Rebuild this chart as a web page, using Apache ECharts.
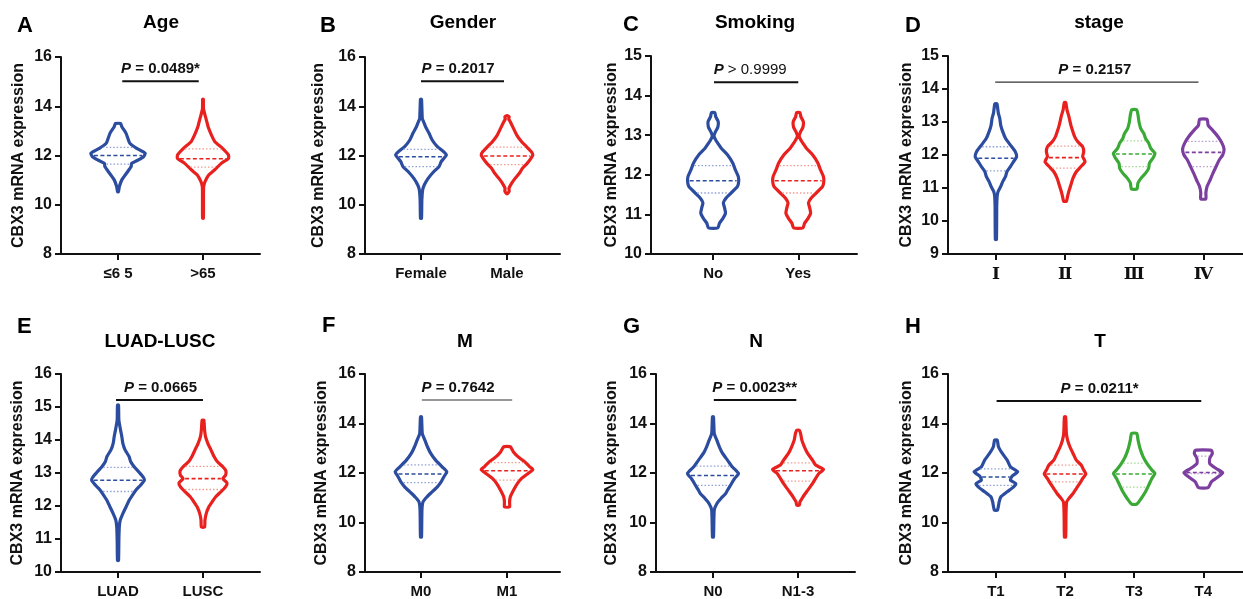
<!DOCTYPE html>
<html><head><meta charset="utf-8">
<script src="https://cdn.jsdelivr.net/npm/echarts@6/dist/echarts.min.js"></script>
<style>html,body{margin:0;padding:0;background:#fff}#c{width:1243px;height:599px}</style>
</head><body><div id="c"></div>
<script>
// ---------- DATA (value, half-width in category units) ----------
const catsAge = ['≤6 5', '>65'];
const catsGender = ['Female', 'Male'];
const catsSmoking = ['No', 'Yes'];
const catsStage = ['Ⅰ', 'Ⅱ', 'Ⅲ', 'Ⅳ'];
const catsType = ['LUAD', 'LUSC'];
const catsM = ['M0', 'M1'];
const catsN = ['N0', 'N1-3'];
const catsT = ['T1', 'T2', 'T3', 'T4'];

const ageLe65 = [[13.30,.03],[13.17,.045],[12.90,.095],[12.49,.14],[12.29,.22],[12.09,.32],[11.95,.30],[11.82,.24],[11.68,.16],[11.55,.155],[11.28,.10],[11.01,.045],[10.74,.016],[10.53,.005]];
const ageGt65 = [[14.29,.004],[13.9,.006],[13.64,.024],[13.44,.04],[13.17,.06],[12.83,.10],[12.56,.14],[12.29,.23],[12.02,.30],[11.88,.30],[11.68,.215],[11.41,.135],[11.21,.067],[10.94,.024],[10.74,.008],[10.47,.006],[9.45,.005]];
const genderF = [[14.28,.006],[13.5,.015],[13.37,.03],[13.17,.053],[12.9,.094],[12.63,.13],[12.36,.19],[12.15,.265],[12.02,.295],[11.88,.265],[11.75,.235],[11.55,.21],[11.35,.15],[11.07,.083],[10.8,.038],[10.6,.019],[10.2,.01],[9.45,.006]];
const genderM = [[13.62,.005],[13.57,.025],[13.48,.02],[13.37,.038],[13.1,.075],[12.83,.113],[12.56,.17],[12.36,.226],[12.15,.283],[12.02,.30],[11.84,.27],[11.68,.234],[11.48,.18],[11.28,.143],[11.07,.094],[10.87,.053],[10.67,.023],[10.55,.025],[10.45,.005]];
const smokeNo = [[13.57,.02],[13.47,.03],[13.34,.06],[13.2,.055],[13.08,.025],[12.98,.01],[12.88,.03],[12.78,.06],[12.67,.095],[12.5,.17],[12.3,.23],[12.13,.26],[11.96,.295],[11.83,.30],[11.7,.285],[11.54,.21],[11.41,.15],[11.29,.12],[11.16,.135],[11.03,.145],[10.9,.115],[10.78,.075],[10.66,.055]];
const smokeYes = [[13.57,.02],[13.47,.03],[13.34,.06],[13.2,.055],[13.08,.025],[12.98,.01],[12.88,.03],[12.78,.06],[12.67,.095],[12.5,.17],[12.3,.23],[12.13,.26],[11.96,.295],[11.83,.30],[11.7,.285],[11.54,.21],[11.41,.15],[11.29,.12],[11.16,.135],[11.03,.145],[10.9,.115],[10.78,.075],[10.66,.055]];
const stage1 = [[13.55,.015],[13.27,.035],[13.12,.055],[12.9,.07],[12.7,.10],[12.5,.14],[12.3,.21],[12.1,.28],[11.95,.30],[11.8,.255],[11.65,.21],[11.5,.16],[11.35,.14],[11.2,.10],[11.05,.07],[10.9,.033],[10.75,.018],[10.45,.012],[9.44,.008]];
const stage2 = [[13.59,.01],[13.37,.028],[13.17,.055],[12.9,.085],[12.7,.115],[12.55,.14],[12.4,.185],[12.25,.255],[12.1,.27],[11.95,.255],[11.8,.29],[11.65,.23],[11.5,.165],[11.3,.115],[11.1,.085],[10.9,.055],[10.75,.037],[10.6,.02]];
const stage3 = [[13.37,.035],[13.22,.055],[13.0,.07],[12.8,.095],[12.65,.14],[12.5,.165],[12.36,.21],[12.2,.24],[12.05,.30],[11.9,.27],[11.75,.22],[11.6,.21],[11.45,.165],[11.3,.10],[11.15,.055],[10.97,.04]];
const stage4 = [[13.08,.055],[12.9,.07],[12.76,.13],[12.56,.21],[12.36,.27],[12.18,.30],[12.0,.28],[11.85,.23],[11.65,.185],[11.45,.14],[11.25,.10],[11.05,.055],[10.85,.037],[10.67,.037]];
const luad = [[15.06,.006],[14.6,.01],[14.3,.03],[14.1,.045],[13.9,.057],[13.7,.083],[13.5,.13],[13.34,.15],[13.19,.19],[13.03,.245],[12.88,.295],[12.78,.31],[12.63,.265],[12.48,.21],[12.33,.17],[12.17,.13],[11.97,.094],[11.77,.057],[11.57,.026],[11.36,.015],[10.96,.01],[10.35,.006]];
const lusc = [[14.6,.01],[14.3,.019],[14.1,.03],[13.9,.057],[13.7,.094],[13.5,.13],[13.34,.17],[13.19,.234],[13.06,.27],[12.93,.265],[12.83,.234],[12.7,.283],[12.58,.265],[12.43,.21],[12.28,.15],[12.12,.106],[11.97,.068],[11.77,.038],[11.57,.023],[11.36,.019]];
const m0 = [[14.27,.006],[13.6,.015],[13.33,.045],[13.06,.075],[12.79,.113],[12.52,.17],[12.25,.245],[12.05,.30],[11.84,.265],[11.64,.234],[11.44,.19],[11.24,.13],[11.03,.068],[10.83,.023],[10.5,.011],[9.41,.006]];
const m1 = [[13.06,.038],[12.85,.075],[12.65,.13],[12.45,.207],[12.25,.264],[12.14,.30],[11.98,.245],[11.78,.17],[11.57,.12],[11.3,.075],[11.03,.038],[10.83,.03],[10.63,.03]];
const n0 = [[14.27,.006],[13.6,.015],[13.33,.045],[13.06,.075],[12.79,.113],[12.52,.17],[12.25,.226],[11.98,.30],[11.78,.255],[11.51,.207],[11.3,.17],[11.17,.15],[10.97,.094],[10.76,.045],[10.5,.015],[9.41,.006]];
const n13 = [[13.73,.015],[13.6,.03],[13.33,.045],[13.06,.075],[12.79,.113],[12.52,.17],[12.32,.207],[12.14,.30],[11.98,.245],[11.78,.207],[11.57,.17],[11.3,.113],[11.03,.057],[10.83,.023],[10.7,.015]];
const t1 = [[13.33,.019],[13.06,.037],[12.79,.093],[12.52,.163],[12.25,.21],[12.05,.316],[11.87,.233],[11.71,.21],[11.57,.288],[11.44,.256],[11.24,.163],[11.03,.07],[10.83,.047],[10.5,.023]];
const t2 = [[14.27,.009],[13.6,.019],[13.33,.037],[13.06,.07],[12.79,.116],[12.52,.163],[12.32,.233],[12.12,.27],[11.96,.30],[11.78,.256],[11.57,.21],[11.37,.163],[11.17,.116],[10.97,.056],[10.83,.023],[10.36,.014],[9.41,.009]];
const t3 = [[13.6,.037],[13.33,.056],[13.0,.084],[12.65,.13],[12.38,.186],[12.12,.256],[11.98,.30],[11.78,.256],[11.51,.21],[11.24,.163],[10.97,.102],[10.74,.037]];
const t4 = [[12.92,.116],[12.79,.13],[12.59,.093],[12.38,.093],[12.18,.186],[12.01,.28],[11.84,.21],[11.64,.116],[11.41,.07]];

// quartiles [Q1, median, Q3]
const statsAge = [[11.65,12.0,12.33],[11.53,11.87,12.27]];
const statsGender = [[11.55,11.95,12.25],[11.63,11.98,12.34]];
const statsSmoking = [[11.54,11.85,12.23],[11.54,11.85,12.23]];
const statsStage = [[11.52,11.9,12.25],[11.6,11.92,12.27],[11.65,12.03,12.43],[11.65,12.08,12.41]];
const statsType = [[12.44,12.78,13.17],[12.5,12.83,13.2]];
const statsM = [[11.61,11.96,12.33],[11.71,12.09,12.42]];
const statsN = [[11.5,11.9,12.28],[11.67,12.09,12.41]];
const statsT = [[11.5,11.84,12.17],[11.64,11.96,12.32],[11.43,11.96,12.4],[11.98,12.02,12.68]];

// p-value annotations: [x start, x end, y, text centre x]
const pTexts = ['0.0489*', '0.2017', '0.9999', '0.2157', '0.0665', '0.7642', '0.0023**', '0.0211*'];
const pOps = ['=', '=', '>', '=', '=', '=', '=', '='];
const pBars = [[1.05,1.95,15.02,1.5],[1.0,1.965,15.02,1.43],[1.01,2.0,14.34,1.435],[0.99,3.93,14.21,2.43],
               [0.976,2.0,15.21,1.5],[1.01,2.06,14.95,1.43],[1.01,1.98,14.95,1.49],[1.01,3.97,14.91,2.5]];
const panelLetters = ['A','B','C','D','E','F','G','H'];
const panelTitles = ['Age','Gender','Smoking','stage','LUAD-LUSC','M','N','T'];
const yRanges = [[8,16,2],[8,16,2],[10,15,1],[9,15,1],[10,16,1],[8,16,2],[8,16,2],[8,16,2]];

// ---------- STYLE / LAYOUT ----------
const FONT = "'Liberation Sans', Arial, Helvetica, sans-serif";
const SERIF = "'Liberation Serif', 'DejaVu Serif', 'Noto Sans CJK SC', serif";
const BLUE = '#2b4c9f', RED = '#e8211e', GREEN = '#3aa935', PURPLE = '#7c3f9f';
const LBLUE = '#8e9fd6', LRED = '#f29a8f', LGREEN = '#9fd694', LPURPLE = '#b99ad6';

const panels = [
  {cats: catsAge, prof: [ageLe65, ageGt65], stats: statsAge, grid: {left:61, top:57, width:199, height:197}, xr:[0.329,2.671], gap:34, thick:true},
  {cats: catsGender, prof: [genderF, genderM], stats: statsGender, grid: {left:365, top:57, width:195, height:197}, xr:[0.349,2.616], gap:38, thick:true},
  {cats: catsSmoking, prof: [smokeNo, smokeYes], stats: statsSmoking, grid: {left:651, top:56, width:206, height:198}, xr:[0.27,2.69], gap:31, thick:true, light:true},
  {cats: catsStage, prof: [stage1, stage2, stage3, stage4], stats: statsStage, grid: {left:948, top:56, width:296, height:198}, xr:[0.307,4.574], gap:33, thick:false, serif:true},
  {cats: catsType, prof: [luad, lusc], stats: statsType, grid: {left:61, top:374, width:199, height:198}, xr:[0.329,2.671], gap:35, thick:true},
  {cats: catsM, prof: [m0, m1], stats: statsM, grid: {left:365, top:374, width:195, height:198}, xr:[0.349,2.616], gap:35, thick:false},
  {cats: catsN, prof: [n0, n13], stats: statsN, grid: {left:656, top:374, width:199, height:198}, xr:[0.33,2.67], gap:36, thick:true},
  {cats: catsT, prof: [t1, t2, t3, t4], stats: statsT, grid: {left:948, top:374, width:296, height:198}, xr:[0.307,4.574], gap:33, thick:true}
];
const colors4 = [BLUE, RED, GREEN, PURPLE];
const light4 = [LBLUE, LRED, LGREEN, LPURPLE];

function widthAt(prof, v) {
  for (let k = 0; k < prof.length - 1; k++) {
    const a = prof[k], b = prof[k+1];
    if (v <= a[0] && v >= b[0]) { const t = (a[0]-v)/(a[0]-b[0]); return a[1] + t*(b[1]-a[1]); }
  }
  return 0;
}

function violinRender(p) {
  return function (params, api) {
    const i = api.value(0);
    const prof = p.prof[i], cx = i + 1;
    const right = prof.map(d => api.coord([cx + d[1], d[0]]));
    const left = prof.slice().reverse().map(d => api.coord([cx - d[1], d[0]]));
    const children = [{
      type: 'polygon', shape: {points: right.concat(left), smooth: 0.18},
      style: {fill: 'none', stroke: colors4[i], lineWidth: 3.2, lineJoin: 'round'}
    }];
    p.stats[i].forEach((s, k) => {
      const w = widthAt(prof, s);
      const a = api.coord([cx - w, s]), b = api.coord([cx + w, s]);
      children.push({
        type: 'line', shape: {x1: a[0] + 2, y1: a[1], x2: b[0] - 2, y2: b[1]},
        style: k === 1 ? {stroke: colors4[i], lineWidth: 1.6, lineDash: [4, 2.5]}
                       : {stroke: light4[i], lineWidth: 1.3, lineDash: [1.5, 2]}
      });
    });
    return {type: 'group', children};
  };
}

function pRender(idx, p) {
  return function (params, api) {
    const b = pBars[idx];
    const a1 = api.coord([b[0], b[2]]), a2 = api.coord([b[1], b[2]]), tc = api.coord([b[3], b[2]]);
    const restWeight = p.light ? 'normal' : 'bold';
    return {type: 'group', children: [
      {type: 'line', shape: {x1: a1[0], y1: a1[1], x2: a2[0], y2: a2[1]},
       style: {stroke: p.thick ? '#111' : '#333', lineWidth: p.thick ? 2 : 1.2}},
      {type: 'text', x: tc[0], y: a1[1] - 12, style: {
        text: '{p|P}{r| ' + pOps[idx] + ' ' + pTexts[idx] + '}',
        align: 'center', verticalAlign: 'middle', textAlign: 'center', textVerticalAlign: 'middle',
        rich: {
          p: {fontFamily: FONT, fontSize: 15, fontWeight: 'bold', fontStyle: 'italic', fill: '#111'},
          r: {fontFamily: FONT, fontSize: 15, fontWeight: restWeight, fill: '#111'}
        }
      }}
    ]};
  };
}

const grid = [], xAxis = [], yAxis = [], series = [], graphic = [];
panels.forEach((p, idx) => {
  grid.push(p.grid);
  const ticks = p.cats.map((c, k) => k + 1);
  xAxis.push({
    type: 'value', gridIndex: idx, min: p.xr[0], max: p.xr[1],
    axisLine: {show: true, onZero: false, lineStyle: {color: '#111', width: 2}},
    axisTick: {show: true, customValues: ticks, length: 6, lineStyle: {color: '#111', width: 2}},
    axisLabel: {show: true, customValues: ticks, margin: 12, formatter: v => p.cats[Math.round(v) - 1] || '',
      fontFamily: p.serif ? SERIF : FONT, fontWeight: 'bold', fontSize: p.serif ? 17 : 15, color: '#111'},
    splitLine: {show: false}
  });
  const yr = yRanges[idx];
  yAxis.push({
    type: 'value', gridIndex: idx, min: yr[0], max: yr[1], interval: yr[2],
    name: 'CBX3 mRNA expression', nameLocation: 'middle', nameGap: p.gap,
    nameTextStyle: {fontFamily: FONT, fontWeight: 'bold', fontSize: 16, color: '#111'},
    axisLine: {show: true, lineStyle: {color: '#111', width: 2}},
    axisTick: {show: true, length: 6, lineStyle: {color: '#111', width: 2}},
    axisLabel: {margin: 9, fontFamily: FONT, fontWeight: 'bold', fontSize: 16, color: '#111'},
    splitLine: {show: false}
  });
  series.push({
    type: 'custom', xAxisIndex: idx, yAxisIndex: idx, coordinateSystem: 'cartesian2d',
    data: p.cats.map((c, k) => [k]), renderItem: violinRender(p), clip: false, silent: true,
    encode: {x: -1, y: -1}
  });
  series.push({
    type: 'custom', xAxisIndex: idx, yAxisIndex: idx, coordinateSystem: 'cartesian2d',
    data: [[0]], renderItem: pRender(idx, p), clip: false, silent: true, encode: {x: -1, y: -1}
  });
});

const letterPos = [[17,26],[320,26],[623,25],[905,26],[17,327],[322,326],[623,327],[905,327]];
const titlePos = [[161,23],[463,23],[755,23],[1099,23],[160,342],[465,342],[756,342],[1100,342]];
panelLetters.forEach((L, k) => graphic.push({type: 'text', x: letterPos[k][0], y: letterPos[k][1],
  style: {text: L, font: 'bold 22px ' + FONT, fill: '#000', textAlign: 'left', textVerticalAlign: 'middle'}}));
panelTitles.forEach((t, k) => graphic.push({type: 'text', x: titlePos[k][0], y: titlePos[k][1],
  style: {text: t, font: 'bold 19px ' + FONT, fill: '#000', textAlign: 'center', textVerticalAlign: 'middle'}}));

const chart = echarts.init(document.getElementById('c'), null, {renderer: 'canvas'});
chart.setOption({animation: false, backgroundColor: '#fff', grid, xAxis, yAxis, series, graphic});
</script></body></html>
